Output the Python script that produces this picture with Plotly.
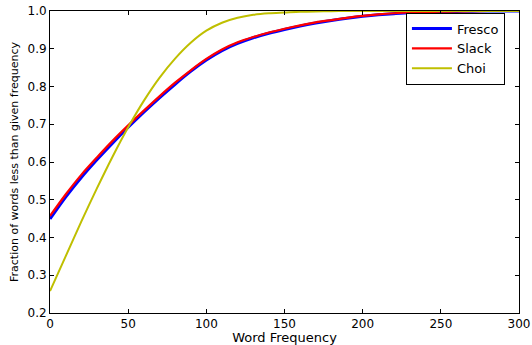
import plotly.graph_objects as go

word_freq = [0, 10, 20, 30, 40, 50, 60, 70, 80, 90, 100, 110, 120, 130, 140, 150,
             160, 170, 180, 190, 200, 210, 220, 230, 240, 250, 260, 270, 280, 290, 300]

fresco = [0.449, 0.507, 0.559, 0.606, 0.650, 0.692, 0.732, 0.770, 0.806, 0.840, 0.870,
          0.895, 0.914, 0.929, 0.941, 0.951, 0.960, 0.968, 0.975, 0.981, 0.986,
          0.990, 0.993, 0.995, 0.997, 0.998, 0.999, 0.9995, 1.0, 1.0, 1.0]

slack = [0.457, 0.514, 0.566, 0.612, 0.656, 0.697, 0.736, 0.774, 0.810, 0.843, 0.873,
         0.898, 0.917, 0.931, 0.943, 0.953, 0.962, 0.970, 0.976, 0.982, 0.987,
         0.991, 0.994, 0.996, 0.997, 0.998, 0.999, 0.9995, 1.0, 1.0, 1.0]

choi = [0.258, 0.350, 0.442, 0.530, 0.614, 0.692, 0.762, 0.823, 0.874, 0.916, 0.948,
        0.969, 0.982, 0.990, 0.994, 0.996, 0.998, 0.999, 0.9995, 1.0, 1.0,
        1.0, 1.0, 1.0, 1.0, 1.0, 1.0, 1.0, 1.0, 1.0, 1.0]

series = [("Fresco", fresco, "#0000ff", 3), ("Slack", slack, "#ff0000", 2.2), ("Choi", choi, "#bfbf00", 2)]

fig = go.Figure()
for name, vals, color, w in series:
    fig.add_trace(go.Scatter(x=word_freq, y=vals, mode="lines", name=name,
                             line=dict(color=color, width=w, shape="spline", smoothing=0.8)))

font = "DejaVu Sans, sans-serif"
axis_common = dict(showgrid=False, zeroline=False, showline=True, linecolor="black",
                   linewidth=1, mirror="ticks", ticks="inside", ticklen=4,
                   tickcolor="black", automargin=False,
                   tickfont=dict(family=font, size=12, color="black"))

fig.update_layout(
    width=532, height=345,
    margin=dict(l=50, r=13, t=11, b=32),
    paper_bgcolor="white", plot_bgcolor="white",
    font=dict(family=font, size=12, color="black"),
    showlegend=True,
    legend=dict(x=0.97, y=0.995, xanchor="right", yanchor="top",
                bordercolor="black", borderwidth=1, bgcolor="white",
                font=dict(family=font, size=13, color="black"),
                tracegroupgap=0, itemwidth=40),
    xaxis=dict(range=[0, 300], tickvals=[0, 50, 100, 150, 200, 250, 300],
               title=dict(text="Word Frequency", standoff=1,
                          font=dict(family=font, size=13)),
               **axis_common),
    yaxis=dict(range=[0.2, 1.0], tickvals=[0.2, 0.3, 0.4, 0.5, 0.6, 0.7, 0.8, 0.9, 1.0],
               ticktext=["0.2", "0.3", "0.4", "0.5", "0.6", "0.7", "0.8", "0.9", "1.0"],
               title=dict(text="Fraction of words less than given frequency", standoff=6,
                          font=dict(family=font, size=11)),
               **axis_common),
)

fig.write_html("out.html", config={"displayModeBar": False},
               post_script="document.body.style.margin='0px';")
